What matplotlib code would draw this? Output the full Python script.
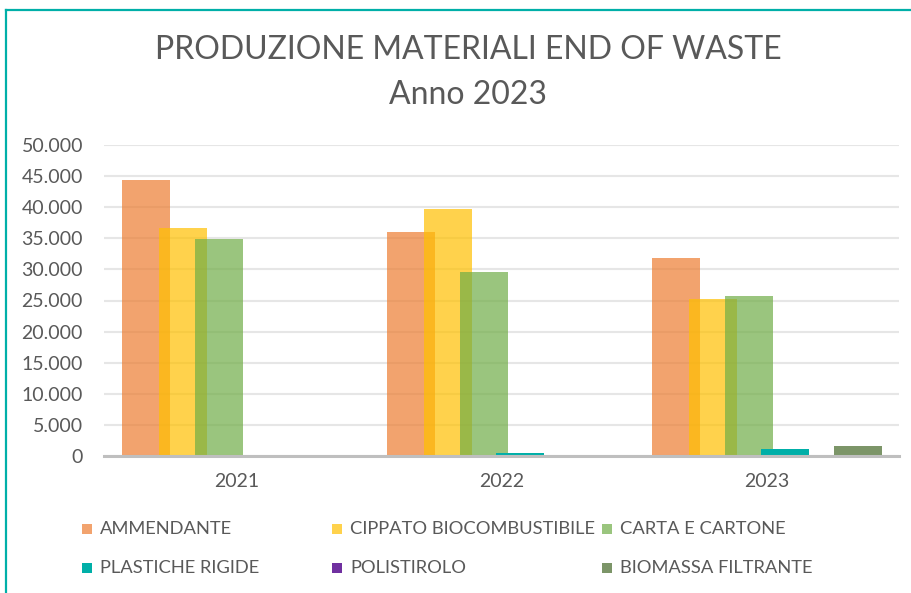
import matplotlib
matplotlib.use("Agg")
import matplotlib.pyplot as plt
from matplotlib.patches import Rectangle
from matplotlib.lines import Line2D
import numpy as np

years = ["2021", "2022", "2023"]
series = ["AMMENDANTE", "CIPPATO BIOCOMBUSTIBILE", "CARTA E CARTONE",
          "PLASTICHE RIGIDE", "POLISTIROLO", "BIOMASSA FILTRANTE"]
ammendante = [44400, 36000, 31900]
cippato = [36700, 39700, 25300]
carta = [34900, 29600, 25700]
plastiche = [0, 450, 1100]
polistirolo = [0, 0, 0]
biomassa = [0, 0, 1600]
values = [ammendante, cippato, carta, plastiche, polistirolo, biomassa]
yticks = [0, 5000, 10000, 15000, 20000, 25000, 30000, 35000, 40000, 45000, 50000]
ytick_labels = ["0", "5.000", "10.000", "15.000", "20.000", "25.000",
                "30.000", "35.000", "40.000", "45.000", "50.000"]

colors = ["#ED7D31", "#FFC000", "#70AD47", "#00AFA8", "#7030A0", "#6E8A58"]
alphas = [0.7, 0.7, 0.7, 1.0, 1.0, 0.9]

plt.rcParams['font.family'] = ['Lato', 'DejaVu Sans']
txt = "#595959"

fig = plt.figure(figsize=(9.12, 5.93), dpi=100)
ax = fig.add_axes([104.5/912, 1 - 456/593, 795/912, 311/593])

x = np.arange(len(years))
step = 0.137
width = 0.181
for i, (name, vals) in enumerate(zip(series, values)):
    ax.bar(x + (i - 2.5) * step, vals, width=width, color=colors[i],
           alpha=alphas[i], zorder=3, linewidth=0)

ax.set_xlim(-0.5, 2.5)
ax.set_ylim(0, 50000)
ax.set_yticks(yticks)
ax.set_yticklabels(ytick_labels)
ax.set_xticks(x)
ax.set_xticklabels(years)
ax.grid(axis='y', color='#E6E6E6', linewidth=1.5, zorder=0)
for s in ['top', 'right', 'left']:
    ax.spines[s].set_visible(False)
ax.spines['bottom'].set_color('#BFBFBF')
ax.spines['bottom'].set_linewidth(2.2)
ax.spines['bottom'].set_zorder(4)
ax.tick_params(axis='both', length=0, labelcolor=txt)
ax.tick_params(axis='y', pad=15.5, labelsize=14)
ax.tick_params(axis='x', pad=12, labelsize=14)

# Title
fig.text(468/912, 1 - 50/593, "PRODUZIONE MATERIALI END OF WASTE", ha='center',
         va='center', fontsize=23, color=txt)
fig.text(468/912, 1 - 95/593, "Anno 2023", ha='center', va='center',
         fontsize=23, color=txt)

# Legend
pos = [(87, 529), (337, 529), (607, 529), (87, 568), (337, 568), (607, 568)]
for i, name in enumerate(series):
    px, py = pos[i]
    fig.add_artist(Rectangle(((px - 5) / 912, 1 - (py + 5) / 593), 10 / 912, 10 / 593,
                             transform=fig.transFigure, color=colors[i],
                             alpha=alphas[i], linewidth=0))
    fig.text((px + 13) / 912, 1 - py / 593, name, ha='left', va='center',
             fontsize=13.2, color=txt)

# Border lines (chart frame)
fig.add_artist(Line2D([6/912, 6/912], [0, 1 - 10/593], transform=fig.transFigure,
                      color="#00AFA8", linewidth=1.6))
fig.add_artist(Line2D([6/912, 1], [1 - 10/593, 1 - 10/593], transform=fig.transFigure,
                      color="#00AFA8", linewidth=1.6))

fig.savefig("out.png", dpi=100)
